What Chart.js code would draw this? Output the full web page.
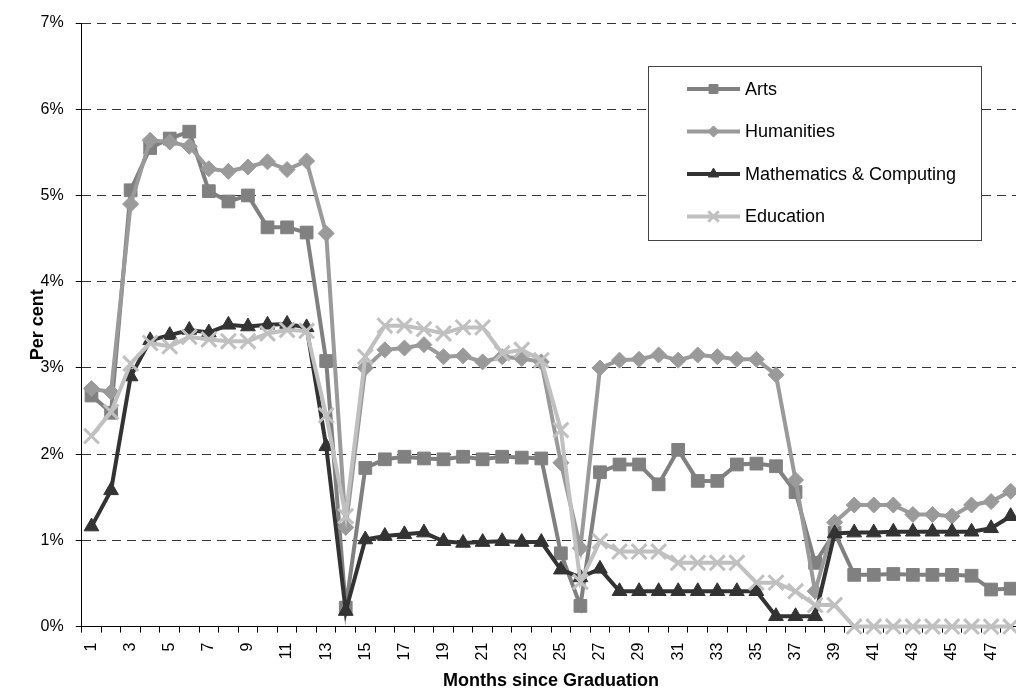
<!DOCTYPE html>
<html>
<head>
<meta charset="utf-8">
<script src="https://cdn.jsdelivr.net/npm/chart.js@4/dist/chart.umd.min.js"></script>
<style>
  html, body { margin: 0; padding: 0; background: #fff; overflow: hidden; }
  #wrap { width: 1040px; height: 691px; }
</style>
</head>
<body>
<div id="wrap"><canvas id="chart" width="1040" height="691"></canvas></div>
<script>
// months since graduation (x categories)
const months = ['1','2','3','4','5','6','7','8','9','10','11','12','13','14','15','16',
  '17','18','19','20','21','22','23','24','25','26','27','28','29','30','31','32',
  '33','34','35','36','37','38','39','40','41','42','43','44','45','46','47','48'];

// values in per cent
const arts = [2.68, 2.48, 5.06, 5.55, 5.66, 5.74, 5.05, 4.93, 5.00, 4.63, 4.63, 4.57,
  3.08, 0.22, 1.84, 1.94, 1.97, 1.95, 1.94, 1.97, 1.94, 1.97, 1.96, 1.95,
  0.85, 0.24, 1.79, 1.88, 1.88, 1.65, 2.05, 1.69, 1.69, 1.88, 1.89, 1.86,
  1.56, 0.74, 1.09, 0.60, 0.60, 0.61, 0.60, 0.60, 0.60, 0.59, 0.43, 0.44];
const humanities = [2.76, 2.72, 4.90, 5.64, 5.62, 5.57, 5.31, 5.28, 5.33, 5.39, 5.30, 5.40,
  4.56, 1.15, 3.00, 3.21, 3.23, 3.27, 3.13, 3.14, 3.07, 3.13, 3.11, 3.07,
  1.90, 0.91, 3.00, 3.09, 3.10, 3.15, 3.09, 3.15, 3.13, 3.10, 3.10, 2.92,
  1.70, 0.41, 1.21, 1.41, 1.41, 1.41, 1.30, 1.30, 1.28, 1.41, 1.45, 1.57];
const maths = [1.16, 1.58, 2.90, 3.32, 3.38, 3.44, 3.41, 3.50, 3.48, 3.50, 3.51, 3.47,
  2.09, 0.18, 1.01, 1.05, 1.07, 1.09, 0.99, 0.97, 0.98, 0.99, 0.98, 0.98,
  0.66, 0.57, 0.67, 0.41, 0.41, 0.41, 0.41, 0.41, 0.41, 0.41, 0.41, 0.12,
  0.12, 0.12, 1.08, 1.09, 1.09, 1.10, 1.10, 1.10, 1.10, 1.10, 1.14, 1.28];
const education = [2.21, 2.49, 3.05, 3.29, 3.25, 3.36, 3.33, 3.31, 3.31, 3.40, 3.44, 3.43,
  2.45, 1.28, 3.13, 3.49, 3.49, 3.45, 3.40, 3.47, 3.47, 3.17, 3.21, 3.09,
  2.28, 0.52, 0.99, 0.87, 0.87, 0.87, 0.74, 0.74, 0.74, 0.74, 0.51, 0.51,
  0.41, 0.25, 0.25, 0, 0, 0, 0, 0, 0, 0, 0, 0];

const FONT = '"Liberation Sans", Arial, sans-serif';

function series(label, data, color, style, radius, pbw, order) {
  return {
    label, data, order,
    borderColor: color, backgroundColor: color,
    pointBackgroundColor: color, pointBorderColor: color,
    pointStyle: style, pointRadius: radius, pointBorderWidth: pbw,
    borderWidth: 4, tension: 0, clip: false
  };
}

// legend box drawn inside the plot, like the original
const boxLegend = {
  id: 'boxLegend',
  afterDraw(chart) {
    const ctx = chart.ctx;
    ctx.save();
    ctx.fillStyle = '#fff';
    ctx.fillRect(648, 66, 333, 174);
    ctx.strokeStyle = '#444';
    ctx.lineWidth = 1;
    ctx.strokeRect(648.5, 66.5, 333, 174);
    ctx.font = '18px ' + FONT;
    ctx.textBaseline = 'middle';
    chart.data.datasets.forEach((ds, i) => {
      const y = 89 + i * 42.5;
      ctx.strokeStyle = ds.borderColor;
      ctx.lineWidth = ds.borderWidth;
      ctx.beginPath();
      ctx.moveTo(687, y);
      ctx.lineTo(740, y);
      ctx.stroke();
      ctx.fillStyle = ds.pointBackgroundColor;
      ctx.lineWidth = ds.pointBorderWidth;
      Chart.helpers.drawPoint(ctx, {
        pointStyle: ds.pointStyle, radius: ds.pointRadius * 0.7,
        borderWidth: ds.pointBorderWidth, rotation: 0
      }, 713.5, y);
      ctx.fillStyle = '#000';
      ctx.fillText(ds.label, 745, y + 1);
    });
    ctx.restore();
  }
};

new Chart(document.getElementById('chart'), {
  type: 'line',
  data: {
    labels: months,
    datasets: [
      series('Arts', arts, '#808080', 'rect', 9, 1, 3),
      series('Humanities', humanities, '#9a9a9a', 'rectRot', 8, 1, 2),
      series('Mathematics & Computing', maths, '#333333', 'triangle', 8.5, 1, 1),
      series('Education', education, '#c0c0c0', 'crossRot', 10.5, 3, 0)
    ]
  },
  options: {
    responsive: false,
    animation: false,
    layout: { padding: { left: 27, top: 23, right: 13.5, bottom: 1 } },
    plugins: {
      legend: { display: false },
      tooltip: { enabled: false }
    },
    scales: {
      x: {
        offset: true,
        grid: { offset: true, drawOnChartArea: false, drawTicks: true, tickLength: 6, color: '#000' },
        border: { color: '#000', width: 1 },
        ticks: {
          autoSkip: false, maxRotation: 90, minRotation: 90, padding: 10,
          color: '#000', font: { family: FONT, size: 16 },
          callback: (v, i) => (i % 2 === 0 ? months[i] : '')
        },
        title: {
          display: true, text: 'Months since Graduation', color: '#000',
          font: { family: FONT, size: 18, weight: 'bold' },
          padding: { top: 0, bottom: -2 }
        }
      },
      y: {
        min: 0, max: 7,
        grid: { color: '#333', tickLength: 6, tickColor: '#000' },
        border: { color: '#000', width: 1, dash: [9, 6] },
        ticks: {
          stepSize: 1, padding: 12, color: '#000',
          font: { family: FONT, size: 16 },
          callback: v => v + '%'
        },
        title: {
          display: true, text: 'Per cent', color: '#000',
          font: { family: FONT, size: 18, weight: 'bold' },
          padding: { top: 0, bottom: -20 }
        }
      }
    }
  },
  plugins: [boxLegend]
});
</script>
</body>
</html>
